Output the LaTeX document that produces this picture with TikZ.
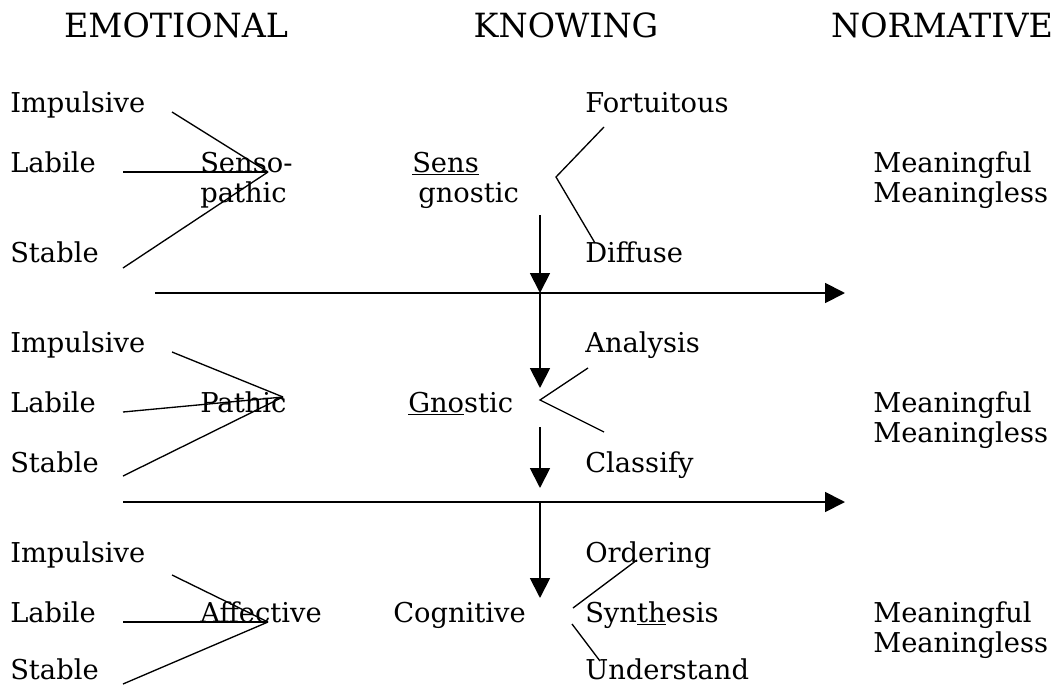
\documentclass[tikz,border=0pt]{standalone}
\usepackage{fontspec}
\setmainfont{DejaVu Serif}
\usetikzlibrary{arrows.meta}
\begin{document}
\begin{tikzpicture}[x=0.75pt,y=-0.75pt,
  lbl/.style={anchor=base west,inner sep=0pt,font=\fontsize{20.5}{24}\selectfont},
  head/.style={anchor=base,inner sep=0pt,font=\fontsize{25}{30}\selectfont},
  link/.style={line width=1pt},
  flow/.style={line width=1.4pt,-{Triangle[length=15pt,width=15pt]}}]
\useasboundingbox (0,0) rectangle (1058,686);

% column headings
\node[head] (hemo) at (176,37) {EMOTIONAL};
\node[head] (hknow) at (566,37) {KNOWING};
\node[head] (hnorm) at (942,37) {NORMATIVE};

% ---------- first level ----------
\node[lbl] (imp1) at (10,112) {Impulsive};
\node[lbl] (lab1) at (10,172) {Labile};
\node[lbl] (sta1) at (10,262) {Stable};
\node[lbl] (sp1) at (200,172) {Senso-};
\node[lbl] (sp2) at (200,202) {pathic};
\node[lbl] (sg1) at (412,172) {\underline{Sens}};
\node[lbl] (sg2) at (418,202) {gnostic};
\node[lbl] (fort) at (585,112) {Fortuitous};
\node[lbl] (diff) at (585,262) {Diffuse};
\node[lbl] (mf1) at (873,172) {Meaningful};
\node[lbl] (ml1) at (873,202) {Meaningless};

\coordinate (e1a) at (172,112);
\coordinate (e1b) at (123,172);
\coordinate (e1c) at (123,268);
\coordinate (e1m) at (268,172);
\draw[link] (e1a) -- (e1m);
\draw[link] (e1b) -- (e1m);
\draw[link] (e1c) -- (e1m);

\coordinate (k1a) at (604,127);
\coordinate (k1m) at (556,177);
\coordinate (k1b) at (595,243);
\draw[link] (k1a) -- (k1m) -- (k1b);

% ---------- second level ----------
\node[lbl] (imp2) at (10,352) {Impulsive};
\node[lbl] (lab2) at (10,412) {Labile};
\node[lbl] (sta2) at (10,472) {Stable};
\node[lbl] (path) at (200,412) {Pathic};
\node[lbl] (gnos) at (408,412) {\underline{Gno}stic};
\node[lbl] (anal) at (585,352) {Analysis};
\node[lbl] (clas) at (585,472) {Classify};
\node[lbl] (mf2) at (873,412) {Meaningful};
\node[lbl] (ml2) at (873,442) {Meaningless};

\coordinate (e2a) at (172,352);
\coordinate (e2b) at (123,412);
\coordinate (e2c) at (123,476);
\coordinate (e2m) at (283,397);
\draw[link] (e2a) -- (e2m);
\draw[link] (e2b) -- (e2m);
\draw[link] (e2c) -- (e2m);

\coordinate (k2a) at (588,368);
\coordinate (k2m) at (540,400);
\coordinate (k2b) at (604,432);
\draw[link] (k2a) -- (k2m) -- (k2b);

% ---------- third level ----------
\node[lbl] (imp3) at (10,562) {Impulsive};
\node[lbl] (lab3) at (10,622) {Labile};
\node[lbl] (sta3) at (10,679) {Stable};
\node[lbl] (affe) at (200,622) {Affective};
\node[lbl] (cogn) at (393,622) {Cognitive};
\node[lbl] (orde) at (585,562) {Ordering};
\node[lbl] (synt) at (585,622) {Syn\underline{th}esis};
\node[lbl] (unde) at (585,679) {Understand};
\node[lbl] (mf3) at (873,622) {Meaningful};
\node[lbl] (ml3) at (873,652) {Meaningless};

\coordinate (e3a) at (172,575);
\coordinate (e3b) at (123,622);
\coordinate (e3c) at (123,684);
\coordinate (e3m) at (268,622);
\draw[link] (e3a) -- (e3m);
\draw[link] (e3b) -- (e3m);
\draw[link] (e3c) -- (e3m);

\coordinate (k3a) at (637,560);
\coordinate (k3b) at (573,608);
\coordinate (k3c) at (572,624);
\coordinate (k3d) at (600,661);
\draw[link] (k3b) -- (k3a);
\draw[link] (k3c) -- (k3d);

% ---------- level dividers and downward flow ----------
\coordinate (d1s) at (155,293);
\coordinate (d1e) at (845,293);
\coordinate (d2s) at (123,502);
\coordinate (d2e) at (845,502);
\draw[flow] (d1s) -- (d1e);
\draw[flow] (d2s) -- (d2e);

\coordinate (v1s) at (540,215);
\coordinate (v1e) at (540,293);
\coordinate (v2s) at (540,293);
\coordinate (v2e) at (540,388);
\coordinate (v3s) at (540,427);
\coordinate (v3e) at (540,488);
\coordinate (v4s) at (540,502);
\coordinate (v4e) at (540,598);
\draw[flow] (v1s) -- (v1e);
\draw[flow] (v2s) -- (v2e);
\draw[flow] (v3s) -- (v3e);
\draw[flow] (v4s) -- (v4e);
\end{tikzpicture}
\end{document}
